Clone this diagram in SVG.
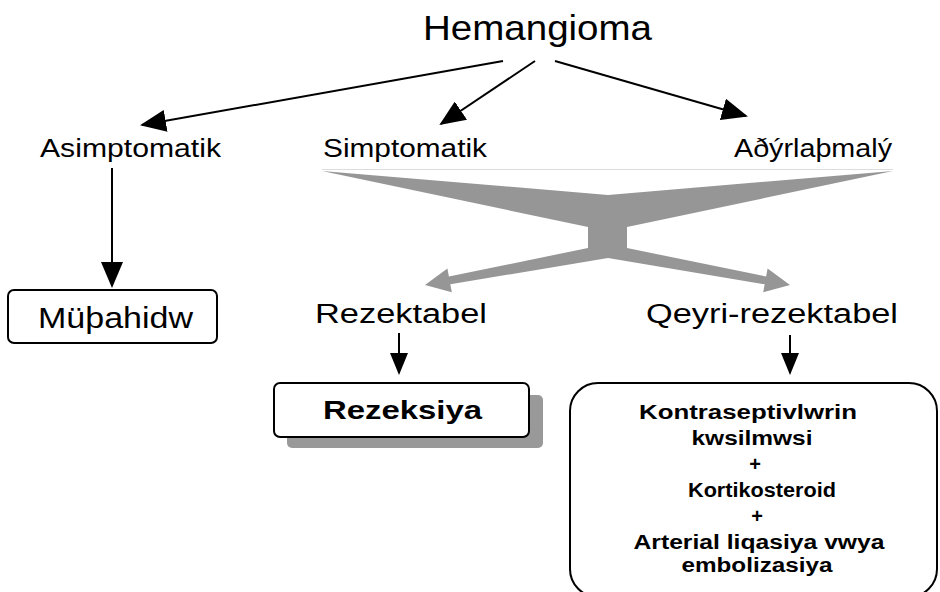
<svg xmlns="http://www.w3.org/2000/svg" width="940" height="592" viewBox="0 0 940 592">
<defs>
<style>
.t{font-family:"Liberation Sans",Arial,sans-serif;fill:#000}
.b{font-weight:bold}
.ln{stroke:#000;stroke-width:2;fill:none}
.box{fill:#fff;stroke:#000;stroke-width:2}
</style>
<marker id="ah" markerWidth="26" markerHeight="22" refX="24" refY="11" orient="auto" markerUnits="userSpaceOnUse">
<path d="M0,0 L26,11 L0,22 Z" fill="#000"/>
</marker>
<marker id="ahs" markerWidth="22" markerHeight="20" refX="20" refY="10" orient="auto" markerUnits="userSpaceOnUse">
<path d="M0,1 L22,10 L0,19 Z" fill="#000"/>
</marker>
</defs>
<rect width="940" height="592" fill="#fff"/>

<g id="connectors">
<line class="ln" x1="503" y1="61" x2="142" y2="125" marker-end="url(#ah)"/>
<line class="ln" x1="535" y1="61" x2="441" y2="124" marker-end="url(#ah)"/>
<line class="ln" x1="555" y1="61" x2="746" y2="116" marker-end="url(#ah)"/>
<line class="ln" x1="112" y1="168" x2="112" y2="286" marker-end="url(#ah)"/>
<line class="ln" x1="399" y1="333" x2="399" y2="373" marker-end="url(#ahs)"/>
<line class="ln" x1="790" y1="335" x2="790" y2="373" marker-end="url(#ahs)"/>
<g id="split-arrow">
<line x1="322" y1="169.5" x2="893" y2="169.5" stroke="#dcdcdc" stroke-width="1"/>
<path fill="#969696" d="M322,171 L608,195 L893,171 L627,227 L627,248 L766.1,276.5 L767.6,268.6 L790,285 L763.2,292.2 L764.7,284.3 L608,258 L450.3,284.3 L451.8,292.2 L425,285 L447.4,268.6 L448.9,276.5 L588,248 L588,227 Z"/>
</g>
</g>

<g id="hemangioma">
<text class="t" x="423" y="40" font-size="35" textLength="229" lengthAdjust="spacingAndGlyphs">Hemangioma</text>
</g>
<g id="asimptomatik">
<text class="t" x="40" y="157" font-size="26" textLength="181" lengthAdjust="spacingAndGlyphs">Asimptomatik</text>
</g>
<g id="simptomatik">
<text class="t" x="323" y="157" font-size="26" textLength="164" lengthAdjust="spacingAndGlyphs">Simptomatik</text>
</g>
<g id="adyrlapmaly">
<text class="t" x="734" y="157" font-size="26" textLength="158" lengthAdjust="spacingAndGlyphs">Aðýrlaþmalý</text>
</g>
<g id="muphahidw">
<rect class="box" x="8" y="290" width="209" height="53" rx="6"/>
<text class="t" x="38" y="328" font-size="30" textLength="155" lengthAdjust="spacingAndGlyphs">Müþahidw</text>
</g>
<g id="rezektabel">
<text class="t" x="315" y="323" font-size="27" textLength="172" lengthAdjust="spacingAndGlyphs">Rezektabel</text>
</g>
<g id="qeyri-rezektabel">
<text class="t" x="646" y="323" font-size="27" textLength="252" lengthAdjust="spacingAndGlyphs">Qeyri-rezektabel</text>
</g>
<g id="rezeksiya">
<rect x="287" y="395" width="256" height="53" rx="5" fill="#999"/>
<rect class="box" x="274" y="383" width="255" height="54" rx="6"/>
<text class="t b" x="323" y="419" font-size="26" textLength="159" lengthAdjust="spacingAndGlyphs">Rezeksiya</text>
</g>
<g id="treatment">
<rect class="box" x="570" y="383" width="367" height="214" rx="28"/>
<g class="t b" font-size="20" text-anchor="middle">
<text x="748" y="419" textLength="218" lengthAdjust="spacingAndGlyphs">Kontraseptivlwrin</text>
<text x="752" y="445" textLength="121" lengthAdjust="spacingAndGlyphs">kwsilmwsi</text>
<text x="755" y="471">+</text>
<text x="762" y="497" textLength="148" lengthAdjust="spacingAndGlyphs">Kortikosteroid</text>
<text x="757" y="523">+</text>
<text x="759" y="549" textLength="251" lengthAdjust="spacingAndGlyphs">Arterial liqasiya vwya</text>
<text x="757" y="572" textLength="151" lengthAdjust="spacingAndGlyphs">embolizasiya</text>
</g>
</g>
</svg>
